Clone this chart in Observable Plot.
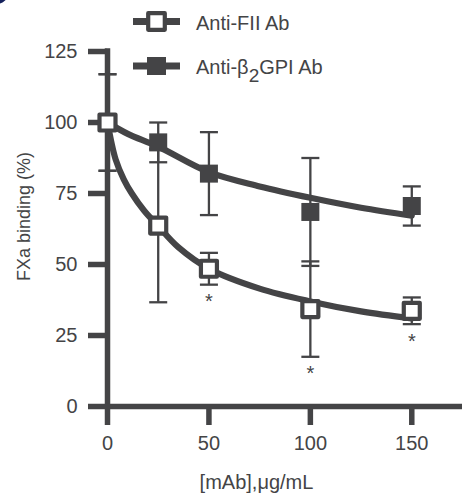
<!DOCTYPE html>
<html>
<head>
<meta charset="utf-8">
<script src="https://cdn.jsdelivr.net/npm/d3@7"></script>
<script src="https://cdn.jsdelivr.net/npm/@observablehq/plot@0.6"></script>
<style>
  html, body { margin: 0; padding: 0; background: white; }
  #wrap { position: relative; width: 462px; height: 494px; overflow: hidden; }
  #legend { position: absolute; left: 0; top: 0; pointer-events: none; }
  #dot { position: absolute; left: -14px; top: -18px; width: 22px; height: 22px; border-radius: 50%; background: #15215c; }
</style>
</head>
<body>
<div id="wrap"></div>
<script>
// ---- data ----
const xVals   = [0, 25, 50, 100, 150];
const fiiMean = [100, 63.7, 48.5, 34.3, 33.7];
const fiiErr  = [17, 27, 5.6, 16.8, 4.7];
const fiiSig  = [false, false, true, true, true];
const b2Mean  = [100, 93, 82, 68.5, 70.6];
const b2Err   = [17, 7, 14.6, 19, 6.9];

const fiiCurveX = [0, 4, 8, 12, 18, 25, 35, 50, 75, 100, 125, 150];
const fiiCurveY = [100, 87, 80, 75, 69, 63.5, 56, 48.5, 41.5, 37, 33.5, 31];
const b2CurveX  = [0, 10, 25, 50, 75, 100, 125, 150];
const b2CurveY  = [100, 96, 91.5, 82.5, 77.5, 73.5, 70, 67.2];

const xTicks = [0, 50, 100, 150];
const yTicks = [0, 25, 50, 75, 100, 125];
const seriesNames = ["Anti-FII Ab", "Anti-β2GPI Ab"];
const xLabel = "[mAb],μg/mL";
const yLabel = "FXa binding (%)";

// ---- tables ----
const fii = xVals.map((x, i) => ({x, y: fiiMean[i], lo: fiiMean[i] - fiiErr[i], hi: fiiMean[i] + fiiErr[i], sig: fiiSig[i]}));
const b2  = xVals.map((x, i) => ({x, y: b2Mean[i], lo: b2Mean[i] - b2Err[i], hi: b2Mean[i] + b2Err[i]}));
const fiiCurve = fiiCurveX.map((x, i) => ({x, y: fiiCurveY[i]}));
const b2Curve  = b2CurveX.map((x, i) => ({x, y: b2CurveY[i]}));
const caps = [...fii, ...b2].flatMap(d => [{x: d.x, y: d.lo}, {x: d.x, y: d.hi}]);

const C = "#444446";
const FONT = "'Liberation Sans', Arial, Helvetica, sans-serif";
const capSymbol = {draw(ctx, size) { const w = Math.sqrt(size) / 2; ctx.moveTo(-w, 0); ctx.lineTo(w, 0); }};

const chart = Plot.plot({
  width: 462, height: 494,
  marginLeft: 107, marginRight: 0, marginTop: 51, marginBottom: 88,
  x: {domain: [0, 175]},
  y: {domain: [0, 125]},
  style: {fontFamily: FONT, fontSize: "20px", color: C, background: "white", overflow: "visible"},
  marks: [
    Plot.axisX({ticks: xTicks, tickSize: 19, tickPadding: 10, strokeWidth: 5.5, fontSize: 20, label: null}),
    Plot.axisY({ticks: yTicks, tickSize: 19, tickPadding: 11, strokeWidth: 5.5, fontSize: 20, label: null}),
    Plot.ruleY([0], {x1: 0, x2: 175, stroke: C, strokeWidth: 5.5}),
    Plot.ruleX([0], {y1: 0, y2: 125, stroke: C, strokeWidth: 5.5, strokeLinecap: "square"}),
    Plot.line(b2Curve, {x: "x", y: "y", curve: "catmull-rom", stroke: C, strokeWidth: 6.2}),
    Plot.line(fiiCurve, {x: "x", y: "y", curve: "catmull-rom", stroke: C, strokeWidth: 6.2}),
    Plot.ruleX(fii, {x: "x", y1: "lo", y2: "hi", stroke: C, strokeWidth: 2.3}),
    Plot.ruleX(b2, {x: "x", y1: "lo", y2: "hi", stroke: C, strokeWidth: 2.3}),
    Plot.dot(caps, {x: "x", y: "y", symbol: capSymbol, r: 10.16, fill: "none", stroke: C, strokeWidth: 2.3}),
    Plot.dot(b2, {x: "x", y: "y", symbol: "square", r: 10.16, fill: C, stroke: "none"}),
    Plot.dot(fii, {x: "x", y: "y", symbol: "square", r: 9.03, fill: "white", stroke: C, strokeWidth: 4.2, strokeLinejoin: "round"}),
    Plot.text(fii.filter(d => d.sig), {x: "x", y: "lo", text: () => "*", dy: 17, fontSize: 20, fill: C}),
    Plot.text([xLabel], {frameAnchor: "bottom", textAnchor: "middle", dx: -28.5, dy: 82, lineAnchor: "bottom", fontSize: 20, fill: C})
  ]
});

const wrap = document.getElementById("wrap");
wrap.appendChild(chart);

// ---- legend + y title overlay ----
const ns = "http://www.w3.org/2000/svg";
const leg = document.createElementNS(ns, "svg");
leg.setAttribute("id", "legend");
leg.setAttribute("width", 462);
leg.setAttribute("height", 494);
const rows = [{cy: 21.5, open: true}, {cy: 66, open: false}];
rows.forEach((r, i) => {
  const g = document.createElementNS(ns, "g");
  const ln = document.createElementNS(ns, "line");
  ln.setAttribute("x1", 133); ln.setAttribute("x2", 180);
  ln.setAttribute("y1", r.cy); ln.setAttribute("y2", r.cy);
  ln.setAttribute("stroke", C); ln.setAttribute("stroke-width", 7);
  g.appendChild(ln);
  const sq = document.createElementNS(ns, "rect");
  if (r.open) {
    sq.setAttribute("x", 156.5 - 8.3); sq.setAttribute("y", r.cy - 8.3);
    sq.setAttribute("width", 16.6); sq.setAttribute("height", 16.6);
    sq.setAttribute("fill", "white"); sq.setAttribute("stroke", C);
    sq.setAttribute("stroke-width", 4.2); sq.setAttribute("stroke-linejoin", "round");
  } else {
    sq.setAttribute("x", 156.5 - 9.5); sq.setAttribute("y", r.cy - 9);
    sq.setAttribute("width", 19); sq.setAttribute("height", 18);
    sq.setAttribute("fill", C);
  }
  g.appendChild(sq);
  const t = document.createElementNS(ns, "text");
  t.setAttribute("x", 196); t.setAttribute("y", r.cy + 8.3);
  t.setAttribute("fill", C);
  t.setAttribute("font-family", FONT);
  t.setAttribute("font-size", 20);
  const name = seriesNames[i];
  if (name.includes("β2")) {
    const [a, b] = name.split("2");
    const t1 = document.createElementNS(ns, "tspan"); t1.textContent = a;
    const t2 = document.createElementNS(ns, "tspan"); t2.textContent = "2"; t2.setAttribute("dy", 8); t2.setAttribute("font-size", 19);
    const t3 = document.createElementNS(ns, "tspan"); t3.textContent = b; t3.setAttribute("dy", -8);
    t.appendChild(t1); t.appendChild(t2); t.appendChild(t3);
  } else {
    t.textContent = name;
  }
  g.appendChild(t);
  leg.appendChild(g);
});
const yt = document.createElementNS(ns, "text");
yt.setAttribute("transform", "translate(30,216.5) rotate(-90)");
yt.setAttribute("text-anchor", "middle");
yt.setAttribute("fill", C);
yt.setAttribute("font-family", FONT);
yt.setAttribute("font-size", 18);
yt.textContent = yLabel;
leg.appendChild(yt);
wrap.appendChild(leg);
const dot = document.createElement("div");
dot.id = "dot";
wrap.appendChild(dot);
</script>
</body>
</html>
